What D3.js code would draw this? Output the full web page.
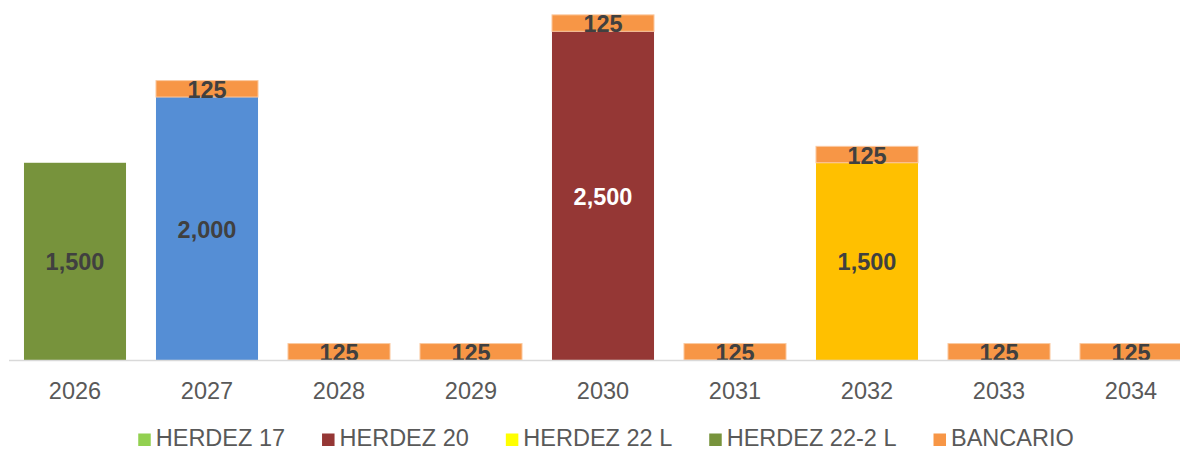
<!DOCTYPE html>
<html><head><meta charset="utf-8">
<script src="https://cdn.jsdelivr.net/npm/d3@7"></script>
<style>
html,body{margin:0;padding:0;background:#fff;}
svg{display:block;font-family:"Liberation Sans",Arial,sans-serif;}
</style></head>
<body><svg id="c" width="1180" height="451"></svg>
<script>
const years = ["2026","2027","2028","2029","2030","2031","2032","2033","2034"];
const seriesNames = ["HERDEZ 17","HERDEZ 20","HERDEZ 22 L","HERDEZ 22-2 L","BANCARIO"];
const herdez17  = [0,2000,0,0,0,0,0,0,0];
const herdez20  = [0,0,0,0,2500,0,0,0,0];
const herdez22L = [0,0,0,0,0,0,1500,0,0];
const herdez222L= [1500,0,0,0,0,0,0,0,0];
const bancario  = [0,125,125,125,125,125,125,125,125];
const legendColors = ["#92D050","#953735","#FFFF00","#77933C","#F79646"];
const barColors    = ["#558ED5","#953735","#FFC000","#77933C","#F79646"];
const labelColors  = ["#404040","#FFFFFF","#404040","#404040","#404040"];
const seriesValues = [herdez17, herdez20, herdez22L, herdez222L, bancario];

const svg = d3.select("#c");
const x = d3.scaleBand().domain(years).range([9,1197]).paddingInner(0.227).paddingOuter(0.1135);
const y = d3.scaleLinear().domain([0,2700]).range([360,5]);

const rows = years.map((yr,i)=>{const o={year:yr}; seriesNames.forEach((s,k)=>o[s]=seriesValues[k][i]); return o;});
const stack = d3.stack().keys(seriesNames)(rows);

const g = svg.append("g");
stack.forEach((layer,k)=>{
  layer.forEach((d,i)=>{
    const v = d[1]-d[0];
    if(v<=0) return;
    g.append("rect")
      .attr("x", x(years[i])).attr("width", x.bandwidth())
      .attr("y", y(d[1])).attr("height", y(d[0])-y(d[1]))
      .attr("fill", barColors[k])
      .attr("stroke", k===4 ? "#FBC9A0" : "none").attr("stroke-width", k===4?1:0);
  });
});

// axis
const ax = svg.append("g").attr("transform","translate(0,360)")
  .call(d3.axisBottom(x).tickSize(0).tickPadding(0));
ax.select(".domain").attr("stroke","#D9D9D9").attr("stroke-width",1.5).attr("d","M9,0.5H1180");
ax.selectAll("text").attr("font-size","23.5px").attr("fill","#595959")
  .attr("font-family","'Liberation Sans',Arial,sans-serif").attr("dy",null).attr("y",39);

// labels
const fmt = d3.format(",");
stack.forEach((layer,k)=>{
  layer.forEach((d,i)=>{
    const v = d[1]-d[0];
    if(v<=0) return;
    g.append("text")
      .attr("x", x(years[i])+x.bandwidth()/2)
      .attr("y", (y(d[0])+y(d[1]))/2 + 9)
      .attr("text-anchor","middle")
      .attr("font-size","23.5px").attr("font-weight","bold")
      .attr("fill", labelColors[k])
      .text(fmt(v));
  });
});

// legend
const lg = svg.append("g");
let items = seriesNames.map((s,k)=>{
  const t = lg.append("text").attr("y",446).attr("font-size","23.5px").attr("fill","#595959").text(s);
  return {t, w:t.node().getComputedTextLength(), k};
});
const sq=12.5, gapSq=5, gapItem=37;
const total = d3.sum(items,d=>sq+gapSq+d.w) + gapItem*(items.length-1);
let cx = 606 - total/2;
items.forEach(it=>{
  lg.append("rect").attr("x",cx).attr("y",433.5).attr("width",sq).attr("height",sq).attr("fill",legendColors[it.k]);
  it.t.attr("x",cx+sq+gapSq);
  cx += sq+gapSq+it.w+gapItem;
});
</script></body></html>
